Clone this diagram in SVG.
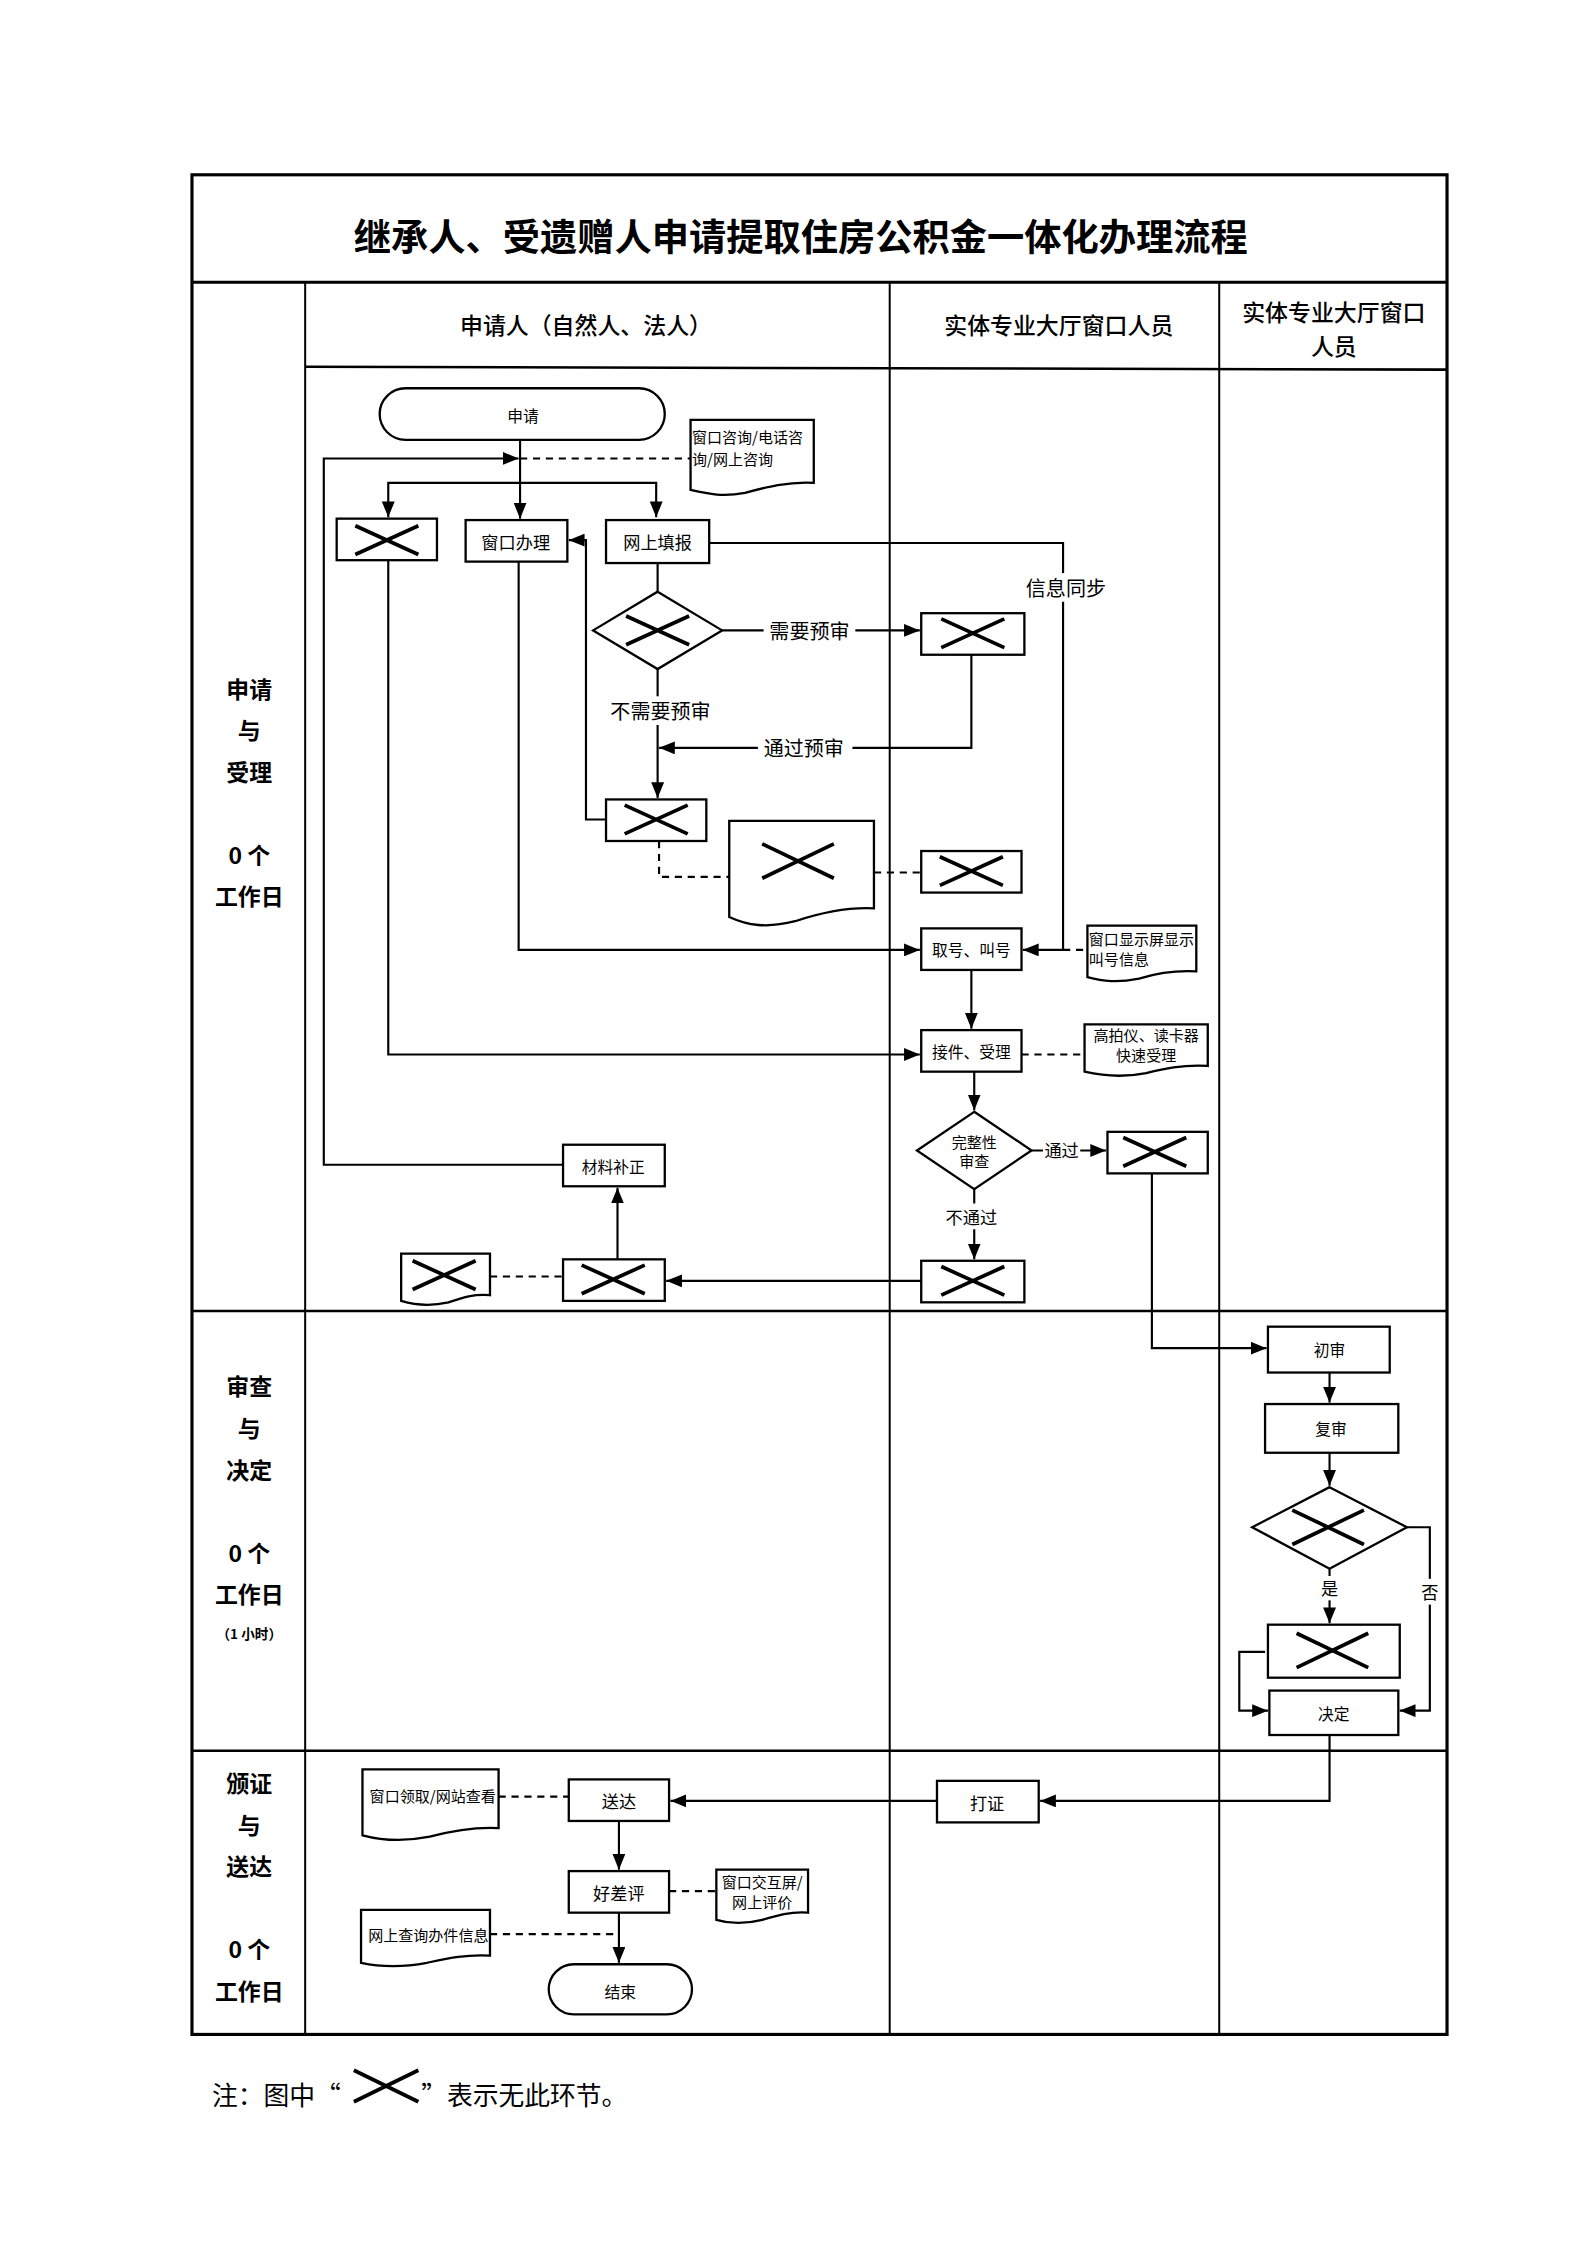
<svg xmlns="http://www.w3.org/2000/svg" xmlns:xlink="http://www.w3.org/1999/xlink" width="1587" height="2245" viewBox="0 0 1587 2245">
<style>
text{font-family:"Noto Sans CJK SC","Noto Sans",sans-serif;fill:#000;dominant-baseline:central}
.t{text-anchor:middle}
.n{fill:#fff;stroke:#000;stroke-width:1.6}
.c{fill:none;stroke:#000;stroke-width:1.5}
.ca{fill:none;stroke:#000;stroke-width:1.5;marker-end:url(#ah)}
.d{fill:none;stroke:#000;stroke-width:1.5;stroke-dasharray:5,4}
.fr{fill:none;stroke:#000;stroke-width:1.4}
.lbl{font-size:16px;font-weight:bold;text-anchor:middle}
.hd{font-size:16px;font-weight:500;text-anchor:middle}
.s12{font-size:12px}
.s11{font-size:11px}
.s10{font-size:10.5px}
.s14{font-size:14px}
</style>
<defs>
<marker id="ah" viewBox="0 0 11 9" refX="11" refY="4.5" markerWidth="11" markerHeight="9" markerUnits="userSpaceOnUse" orient="auto"><path d="M0,0 L11,4.5 L0,9 z" fill="#000"/></marker>
<path id="xs" d="M-22,-10 L22,10 M-22,10 L22,-10" stroke="#000" stroke-width="2.6" fill="none"/>
<path id="xl" d="M-25,-12 L25,12 M-25,12 L25,-12" stroke="#000" stroke-width="2.6" fill="none"/>
</defs>
<rect width="1587" height="2245" fill="#fff"/>
<g transform="scale(1.4327)">
<g id="frame">
<rect x="134" y="122" width="876" height="1298" fill="none" stroke="#000" stroke-width="2.2"/>
<line x1="134" y1="197" x2="1010" y2="197" stroke="#000" stroke-width="2"/>
<line class="fr" x1="213" y1="197" x2="213" y2="1420"/>
<line class="fr" x1="621" y1="197" x2="621" y2="1420"/>
<line class="fr" x1="851" y1="197" x2="851" y2="1420"/>
<line x1="213" y1="256" x2="1010" y2="258" stroke="#000" stroke-width="1.8"/>
<line x1="134" y1="915" x2="1010" y2="915" stroke="#000" stroke-width="1.8"/>
<line x1="134" y1="1222" x2="1010" y2="1222" stroke="#000" stroke-width="1.8"/>
<text x="559" y="164" class="t" style="font-size:26px;font-weight:bold">继承人、受遗赠人申请提取住房公积金一体化办理流程</text>
<text x="409" y="226" class="hd">申请人（自然人、法人）</text>
<text x="739" y="226" class="hd">实体专业大厅窗口人员</text>
<text x="931" y="217" class="hd">实体专业大厅窗口</text>
<text x="931" y="241" class="hd">人员</text>
<text x="174" y="480" class="lbl">申请</text>
<text x="174" y="509" class="lbl">与</text>
<text x="174" y="538" class="lbl">受理</text>
<text x="174" y="596" class="lbl">0 个</text>
<text x="174" y="625" class="lbl">工作日</text>
<text x="174" y="967" class="lbl">审查</text>
<text x="174" y="996" class="lbl">与</text>
<text x="174" y="1025" class="lbl">决定</text>
<text x="174" y="1083" class="lbl">0 个</text>
<text x="174" y="1112" class="lbl">工作日</text>
<text x="174" y="1140" class="t" style="font-size:9.5px;font-weight:bold">（1 小时）</text>
<text x="174" y="1244" class="lbl">颁证</text>
<text x="174" y="1273" class="lbl">与</text>
<text x="174" y="1302" class="lbl">送达</text>
<text x="174" y="1360" class="lbl">0 个</text>
<text x="174" y="1389" class="lbl">工作日</text>
</g>
<g id="connectors">
<path class="ca" d="M363,307 V362"/>
<path class="ca" d="M363,337 H271 V361"/>
<path class="ca" d="M363,337 H458 V361"/>
<path class="ca" d="M393,813 H226 V320 H362"/>
<path class="d" d="M363,320 H482"/>
<path class="ca" d="M495,379 H742 V663 H714"/>
<rect x="713" y="400" width="62" height="20" fill="#fff"/>
<text x="744" y="410" class="t s14">信息同步</text>
<path class="c" d="M459,393 V413"/>
<path class="ca" d="M504,440 H642"/>
<rect x="533" y="430" width="64" height="20" fill="#fff"/>
<text x="565" y="440" class="t s14">需要预审</text>
<path class="ca" d="M459,467 V557"/>
<rect x="424" y="486" width="74" height="20" fill="#fff"/>
<text x="461" y="496" class="t s14">不需要预审</text>
<path class="ca" d="M678,457 V522 H460"/>
<rect x="529" y="512" width="66" height="20" fill="#fff"/>
<text x="561" y="522" class="t s14">通过预审</text>
<path class="ca" d="M423,572 H409 V377 H397"/>
<path class="d" d="M460,587 V612 H509"/>
<path class="d" d="M610,609 H643"/>
<path class="ca" d="M362,392 V663 H642"/>
<path class="ca" d="M678,677 V718"/>
<path class="ca" d="M271,391 V736 H642"/>
<path class="d" d="M742,663 H759"/>
<path class="d" d="M713,736 H757"/>
<path class="ca" d="M680,748 V775"/>
<path class="ca" d="M720,803 H772"/>
<rect x="728" y="794" width="26" height="18" fill="#fff"/>
<text x="741" y="802" class="t s12">通过</text>
<path class="ca" d="M680,830 V879"/>
<rect x="659" y="840" width="40" height="18" fill="#fff"/>
<text x="678" y="849" class="t s12">不通过</text>
<path class="ca" d="M643,894 H465"/>
<path class="ca" d="M431,879 V829"/>
<path class="d" d="M342,891 H393"/>
<path class="ca" d="M804,819 V941 H884"/>
<path class="ca" d="M928,958 V979"/>
<path class="ca" d="M928,1014 V1037"/>
<path class="ca" d="M928,1095 V1133"/>
<rect x="920" y="1100" width="16" height="17" fill="#fff"/>
<text x="928" y="1108" class="t s12">是</text>
<path class="ca" d="M982,1066 H998 V1194 H977"/>
<rect x="990" y="1102" width="16" height="18" fill="#fff"/>
<text x="998" y="1111" class="t s12">否</text>
<path class="ca" d="M883,1153 H865 V1194 H885"/>
<path class="ca" d="M928,1211 V1257 H726"/>
<path class="ca" d="M654,1257 H468"/>
<path class="d" d="M348,1254 H397"/>
<path class="ca" d="M432,1271 V1305"/>
<path class="d" d="M467,1320 H500"/>
<path class="ca" d="M432,1335 V1370"/>
<path class="d" d="M342,1350 H432"/>
</g>
<g id="n-apply"><rect class="n" x="265" y="271" width="199" height="36" rx="18"/><text x="365" y="290" class="t s11">申请</text></g>
<g id="n-consult"><path class="n" d="M482,293 H568 V337 C550,336 535,340 520,344 C505,347 495,345 482,342 Z"/><text x="483" y="305" class="s10">窗口咨询/电话咨</text><text x="483" y="320" class="s10">询/网上咨询</text></g>
<g id="n-x1"><rect class="n" x="235" y="362" width="70" height="29"/><use href="#xs" x="270" y="377"/></g>
<g id="n-window"><rect class="n" x="325" y="363" width="71" height="29"/><text x="360" y="378" class="t s12">窗口办理</text></g>
<g id="n-online"><rect class="n" x="423" y="363" width="72" height="30"/><text x="459" y="378" class="t s12">网上填报</text></g>
<g id="n-d1"><path class="n" d="M459,413 L504,440 L459,467 L414,440 Z"/><use href="#xs" x="459" y="440"/></g>
<g id="n-x2"><rect class="n" x="643" y="428" width="72" height="29"/><use href="#xs" x="679" y="442"/></g>
<g id="n-x3"><rect class="n" x="423" y="558" width="70" height="29"/><use href="#xs" x="458" y="572"/></g>
<g id="n-xdoc1"><path class="n" d="M509,573 H610 V634 C590,633 570,638 555,643 C535,648 522,646 509,640 Z"/><use href="#xl" x="557" y="601"/></g>
<g id="n-x4"><rect class="n" x="643" y="594" width="70" height="29"/><use href="#xs" x="678" y="608"/></g>
<g id="n-call"><rect class="n" x="643" y="648" width="70" height="29"/><text x="678" y="663" class="t s11">取号、叫号</text></g>
<g id="n-screen"><path class="n" d="M759,646 H835 V678 C818,677 805,680 795,683 C780,686 770,685 759,682 Z"/><text x="760" y="655" class="s10">窗口显示屏显示</text><text x="760" y="669" class="s10">叫号信息</text></g>
<g id="n-accept"><rect class="n" x="643" y="719" width="70" height="29"/><text x="678" y="734" class="t s11">接件、受理</text></g>
<g id="n-scanner"><path class="n" d="M757,715 H843 V744 C825,743 812,746 800,749 C785,752 770,751 757,748 Z"/><text x="800" y="722" class="t s10">高拍仪、读卡器</text><text x="800" y="736" class="t s10">快速受理</text></g>
<g id="n-check"><path class="n" d="M680,776 L720,803 L680,830 L640,803 Z"/><text x="680" y="797" class="t s10">完整性</text><text x="680" y="810" class="t s10">审查</text></g>
<g id="n-x5"><rect class="n" x="773" y="790" width="70" height="29"/><use href="#xs" x="806" y="804"/></g>
<g id="n-x6"><rect class="n" x="643" y="880" width="72" height="29"/><use href="#xs" x="679" y="894"/></g>
<g id="n-x7"><rect class="n" x="393" y="879" width="71" height="29"/><use href="#xs" x="428" y="893"/></g>
<g id="n-supp"><rect class="n" x="393" y="799" width="71" height="29"/><text x="428" y="814" class="t s11">材料补正</text></g>
<g id="n-xdoc2"><path class="n" d="M280,875 H342 V904 C330,903 322,906 313,909 C300,912 290,911 280,908 Z"/><use href="#xs" x="310" y="890"/></g>
<g id="n-first"><rect class="n" x="885" y="926" width="85" height="32"/><text x="928" y="942" class="t s11">初审</text></g>
<g id="n-second"><rect class="n" x="883" y="980" width="93" height="34"/><text x="929" y="997" class="t s11">复审</text></g>
<g id="n-d2"><path class="n" d="M928,1038 L982,1066 L928,1095 L874,1066 Z"/><use href="#xl" x="927" y="1066"/></g>
<g id="n-x8"><rect class="n" x="885" y="1134" width="92" height="37"/><use href="#xl" x="930" y="1152"/></g>
<g id="n-decide"><rect class="n" x="886" y="1180" width="90" height="31"/><text x="931" y="1196" class="t s11">决定</text></g>
<g id="n-print"><rect class="n" x="654" y="1243" width="71" height="29"/><text x="689" y="1258" class="t s12">打证</text></g>
<g id="n-deliver"><rect class="n" x="397" y="1242" width="70" height="29"/><text x="432" y="1257" class="t s12">送达</text></g>
<g id="n-pickup"><path class="n" d="M253,1235 H348 V1276 C330,1275 315,1278 300,1282 C285,1285 268,1285 253,1281 Z"/><text x="258" y="1253" class="s10">窗口领取/网站查看</text></g>
<g id="n-eval"><rect class="n" x="397" y="1306" width="70" height="29"/><text x="432" y="1321" class="t s12">好差评</text></g>
<g id="n-evaldoc"><path class="n" d="M500,1305 H564 V1335 C552,1334 542,1337 532,1340 C520,1343 510,1343 500,1340 Z"/><text x="532" y="1313" class="t s10">窗口交互屏/</text><text x="532" y="1327" class="t s10">网上评价</text></g>
<g id="n-query"><path class="n" d="M252,1333 H342 V1365 C325,1364 312,1367 298,1370 C282,1373 266,1373 252,1370 Z"/><text x="257" y="1350" class="s10">网上查询办件信息</text></g>
<g id="n-end"><rect class="n" x="383" y="1371" width="100" height="35" rx="17.5"/><text x="433" y="1390" class="t s11">结束</text></g>
<g id="note">
<text x="148" y="1461" style="font-size:18px">注：图中“</text>
<path d="M247,1445 L292,1467 M247,1467 L292,1445" stroke="#000" stroke-width="2.6" fill="none"/>
<text x="294" y="1461" style="font-size:18px">”表示无此环节。</text>
</g>
</g>
</svg>
